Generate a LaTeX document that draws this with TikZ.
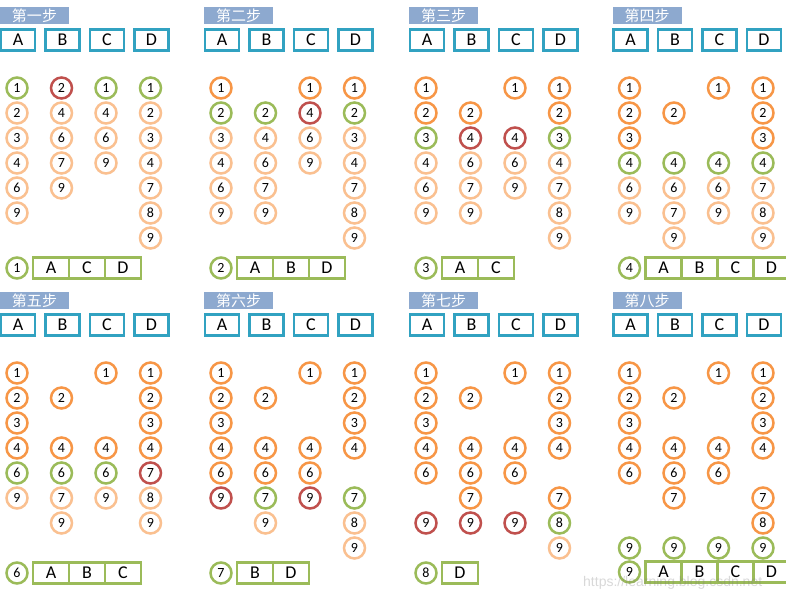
\documentclass[tikz,border=0pt]{standalone}
\usepackage{fontspec}
\setmainfont{Carlito}
\newfontfamily\cjk{Noto Sans CJK SC}
\newfontfamily\wmfont{Liberation Sans}
\definecolor{cg}{HTML}{9BBB59}
\definecolor{cr}{HTML}{C0504D}
\definecolor{co}{HTML}{F79646}
\definecolor{cl}{HTML}{FAC090}
\definecolor{hd}{HTML}{31A2C1}
\definecolor{tb}{HTML}{8DA9CF}
\tikzset{
 circ/.style={circle, line width=2.5pt, minimum size=21pt, inner sep=0pt, font=\fontsize{14}{14}\selectfont},
 hbox/.style={draw=hd, line width=2.8pt, minimum width=34pt, minimum height=21pt, inner sep=0pt, font=\fontsize{18}{18}\selectfont},
 cell/.style={draw=cg, line width=2.6pt, minimum width=36pt, minimum height=21pt, inner sep=0pt, font=\fontsize{18}{18}\selectfont},
 titlebox/.style={fill=tb, minimum width=69pt, minimum height=17pt, inner sep=0pt, text=white, font=\cjk\fontsize{15}{15}\selectfont},
}
% header of a step: id, title
\newcommand\hdr[2]{%
 \node[titlebox] (t#1) at (34.5,15.5) {#2};
 \foreach \L [count=\i from 0] in {A,B,C,D} {\node[hbox] (h#1-\L) at ({18+44.5*\i},40) {\L};}
}
% a column of circles: id, column index, list row/digit/colour
\newcommand\colm[3]{%
 \foreach \rr/\dd/\ss in {#3} {\node[circ, draw=\ss] (n#1-#2-\dd) at ({17+44.5*#2},{63+25*\rr}) {\dd};}
}
% result line: id, y, digit, letters
\newcommand\res[4]{%
 \node[circ, draw=cg] (r#1) at (17,#2) {#3};
 \foreach \L [count=\i from 0] in {#4} {\node[cell] (r#1-\L) at ({51+36*\i},#2) {\L};}
}
\begin{document}
\begin{tikzpicture}[x=1pt,y=-1pt]
\useasboundingbox (0,0) rectangle (786,594);
\fill[white] (0,0) rectangle (786,594);
% ---- step 1
\begin{scope}
\hdr{1}{第一步}
\colm{1}{0}{1/1/cg,2/2/cl,3/3/cl,4/4/cl,5/6/cl,6/9/cl}
\colm{1}{1}{1/2/cr,2/4/cl,3/6/cl,4/7/cl,5/9/cl}
\colm{1}{2}{1/1/cg,2/4/cl,3/6/cl,4/9/cl}
\colm{1}{3}{1/1/cg,2/2/cl,3/3/cl,4/4/cl,5/7/cl,6/8/cl,7/9/cl}
\res{1}{268}{1}{A,C,D}
\end{scope}
% ---- step 2
\begin{scope}[shift={(204,0)}]
\hdr{2}{第二步}
\colm{2}{0}{1/1/co,2/2/cg,3/3/cl,4/4/cl,5/6/cl,6/9/cl}
\colm{2}{1}{2/2/cg,3/4/cl,4/6/cl,5/7/cl,6/9/cl}
\colm{2}{2}{1/1/co,2/4/cr,3/6/cl,4/9/cl}
\colm{2}{3}{1/1/co,2/2/cg,3/3/cl,4/4/cl,5/7/cl,6/8/cl,7/9/cl}
\res{2}{268}{2}{A,B,D}
\end{scope}
% ---- step 3
\begin{scope}[shift={(409,0)}]
\hdr{3}{第三步}
\colm{3}{0}{1/1/co,2/2/co,3/3/cg,4/4/cl,5/6/cl,6/9/cl}
\colm{3}{1}{2/2/co,3/4/cr,4/6/cl,5/7/cl,6/9/cl}
\colm{3}{2}{1/1/co,3/4/cr,4/6/cl,5/9/cl}
\colm{3}{3}{1/1/co,2/2/co,3/3/cg,4/4/cl,5/7/cl,6/8/cl,7/9/cl}
\res{3}{268}{3}{A,C}
\end{scope}
% ---- step 4
\begin{scope}[shift={(612.5,0)}]
\hdr{4}{第四步}
\colm{4}{0}{1/1/co,2/2/co,3/3/co,4/4/cg,5/6/cl,6/9/cl}
\colm{4}{1}{2/2/co,4/4/cg,5/6/cl,6/7/cl,7/9/cl}
\colm{4}{2}{1/1/co,4/4/cg,5/6/cl,6/9/cl}
\colm{4}{3}{1/1/co,2/2/co,3/3/co,4/4/cg,5/7/cl,6/8/cl,7/9/cl}
\res{4}{268}{4}{A,B,C,D}
\end{scope}
% ---- step 5
\begin{scope}[shift={(0,285)}]
\hdr{5}{第五步}
\colm{5}{0}{1/1/co,2/2/co,3/3/co,4/4/co,5/6/cg,6/9/cl}
\colm{5}{1}{2/2/co,4/4/co,5/6/cg,6/7/cl,7/9/cl}
\colm{5}{2}{1/1/co,4/4/co,5/6/cg,6/9/cl}
\colm{5}{3}{1/1/co,2/2/co,3/3/co,4/4/co,5/7/cr,6/8/cl,7/9/cl}
\res{5}{288}{6}{A,B,C}
\end{scope}
% ---- step 6
\begin{scope}[shift={(204,285)}]
\hdr{6}{第六步}
\colm{6}{0}{1/1/co,2/2/co,3/3/co,4/4/co,5/6/co,6/9/cr}
\colm{6}{1}{2/2/co,4/4/co,5/6/co,6/7/cg,7/9/cl}
\colm{6}{2}{1/1/co,4/4/co,5/6/co,6/9/cr}
\colm{6}{3}{1/1/co,2/2/co,3/3/co,4/4/co,6/7/cg,7/8/cl,8/9/cl}
\res{6}{288}{7}{B,D}
\end{scope}
% ---- step 7
\begin{scope}[shift={(409,285)}]
\hdr{7}{第七步}
\colm{7}{0}{1/1/co,2/2/co,3/3/co,4/4/co,5/6/co,7/9/cr}
\colm{7}{1}{2/2/co,4/4/co,5/6/co,6/7/co,7/9/cr}
\colm{7}{2}{1/1/co,4/4/co,5/6/co,7/9/cr}
\colm{7}{3}{1/1/co,2/2/co,3/3/co,4/4/co,6/7/co,7/8/cg,8/9/cl}
\res{7}{288}{8}{D}
\end{scope}
% ---- step 8
\begin{scope}[shift={(612.5,285)}]
\hdr{8}{第八步}
\colm{8}{0}{1/1/co,2/2/co,3/3/co,4/4/co,5/6/co,8/9/cg}
\colm{8}{1}{2/2/co,4/4/co,5/6/co,6/7/co,8/9/cg}
\colm{8}{2}{1/1/co,4/4/co,5/6/co,8/9/cg}
\colm{8}{3}{1/1/co,2/2/co,3/3/co,4/4/co,6/7/co,7/8/co,8/9/cg}
\res{8}{287}{9}{A,B,C,D}
\end{scope}
% watermark
\node[anchor=base west, text=gray, opacity=0.3, inner sep=0pt, font=\wmfont\fontsize{14}{14}\selectfont] (wm) at (583,586) {https://learning.blog.csdn.net};
\end{tikzpicture}
\end{document}
